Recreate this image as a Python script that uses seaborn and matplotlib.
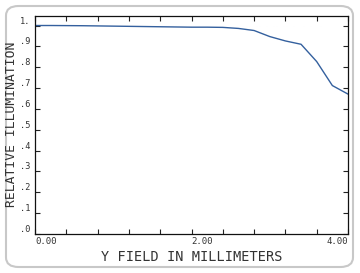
import matplotlib
matplotlib.use("Agg")
import matplotlib.pyplot as plt
from matplotlib.patches import FancyBboxPatch
import seaborn as sns
import pandas as pd
import numpy as np

field_mm = [0.0, 0.2, 0.4, 0.6, 0.8, 1.0, 1.2, 1.4, 1.6, 1.8, 2.0,
            2.2, 2.4, 2.6, 2.8, 3.0, 3.2, 3.4, 3.6, 3.8, 4.0]
rel_illum = [1.000, 1.000, 0.9995, 0.999, 0.998, 0.997, 0.996, 0.995, 0.994, 0.993, 0.992,
             0.992, 0.991, 0.986, 0.976, 0.947, 0.926, 0.910, 0.827, 0.712, 0.671]
y_tick_labels = [".0", ".1", ".2", ".3", ".4", ".5", ".6", ".7", ".8", ".9", "1."]
x_tick_labels = {0: "0.00", 5: "2.00", 10: "4.00"}
x_label = "Y FIELD IN MILLIMETERS"
y_label = "RELATIVE ILLUMINATION"

sns.set_style("white")
plt.rcParams["font.family"] = ["DejaVu Sans Mono", "DejaVu Sans"]

df = pd.DataFrame({"field": field_mm, "illum": rel_illum})

fig = plt.figure(figsize=(3.6, 2.73), dpi=100)
fig.patch.set_facecolor("white")
frame = FancyBboxPatch((6 / 360, 6 / 273), 347 / 360, 261 / 273,
                       boxstyle="round,pad=0,rounding_size=0.035",
                       transform=fig.transFigure, facecolor="none",
                       edgecolor="#c8c8c8", linewidth=1.5, zorder=-1)
fig.patches.append(frame)

ax = fig.add_axes([35 / 360, 1 - 234 / 273, 313 / 360, 218.5 / 273])
ax.set_facecolor("none")
sns.lineplot(data=df, x="field", y="illum", ax=ax, color="#34609e", linewidth=1.0)

ax.set_xlim(0, 4.0)
ax.set_ylim(0, 1.048)
xt = np.linspace(0, 4.0, 11)
ax.set_xticks(xt)
ax.set_xticklabels([x_tick_labels.get(i, "") for i in range(11)], fontsize=6.5, color="#333333")
for i, lab in enumerate(ax.get_xticklabels()):
    if i == 10:
        lab.set_horizontalalignment("right")
    else:
        lab.set_horizontalalignment("left")
yt = np.linspace(0, 1.0, 11)
ax.set_yticks(yt)
ax.set_yticklabels(y_tick_labels, fontsize=6.2, color="#333333")
for lab in ax.get_yticklabels():
    lab.set_verticalalignment("bottom")

ax.tick_params(axis="both", direction="in", length=3.5, width=0.8, color="#222222",
               top=True, right=True, bottom=True, left=True, pad=2)
ax.tick_params(axis="y", pad=3)
for s in ax.spines.values():
    s.set_visible(True)
    s.set_color("#111111")
    s.set_linewidth(0.9)

ax.set_xlabel(x_label, fontsize=9.8, color="#333333", labelpad=3)
ax.set_ylabel(y_label, fontsize=9.4, color="#333333")
ax.yaxis.set_label_coords(-0.053, 0.5)

fig.savefig("out.png", dpi=100, facecolor="white")
